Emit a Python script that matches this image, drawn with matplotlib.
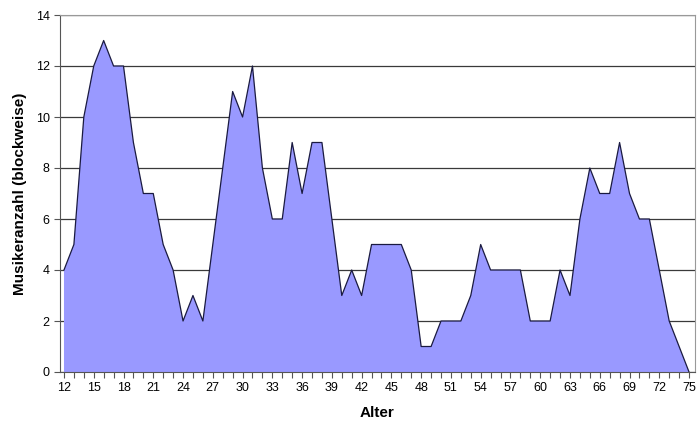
import numpy as np
import matplotlib.pyplot as plt
from matplotlib.ticker import MultipleLocator

plt.rcParams['font.family'] = ['Liberation Sans', 'DejaVu Sans']

# Musiker je Alter (blockweise)
alter = list(range(12, 76))
anzahl = [4, 5, 10, 12, 13, 12, 12, 9, 7, 7, 5, 4, 2, 3, 2, 5, 8, 11, 10, 12,
          8, 6, 6, 9, 7, 9, 9, 6, 3, 4, 3, 5, 5, 5, 5, 4, 1, 1, 2, 2,
          2, 3, 5, 4, 4, 4, 4, 2, 2, 2, 4, 3, 6, 8, 7, 7, 9, 7, 6, 6,
          4, 2, 1, 0]
x_labels = list(range(12, 76, 3))

fig = plt.figure(figsize=(7, 4.33), dpi=100)
ax = fig.add_axes([60/700, 61/433, 635/700, 357/433])

ax.fill_between(alter, anzahl, 0, facecolor='#9999ff', edgecolor='none', zorder=2)
ax.plot(alter, anzahl, color='#1a1a40', lw=0.9, zorder=3)

ax.set_xlim(11.6, 75.6)
ax.set_ylim(0, 14)
ax.set_yticks(range(0, 15, 2))
ax.set_xticks(x_labels)
ax.xaxis.set_minor_locator(MultipleLocator(1))
ax.grid(axis='y', color='#3a3a3a', lw=0.9, zorder=1)
ax.set_axisbelow(True)

ax.tick_params(axis='both', which='both', direction='out', length=4,
               width=0.8, color='#555555', labelsize=9)
ax.tick_params(axis='x', which='minor', length=4)

for s in ['top', 'right']:
    ax.spines[s].set_color('#999999')
for s in ['left', 'bottom']:
    ax.spines[s].set_color('#555555')

ax.set_xlabel('Alter', fontsize=11, fontweight='bold', labelpad=8)
ax.set_ylabel('Musikeranzahl (blockweise)', fontsize=11, fontweight='bold', labelpad=6)

plt.savefig('out.png', dpi=100)
